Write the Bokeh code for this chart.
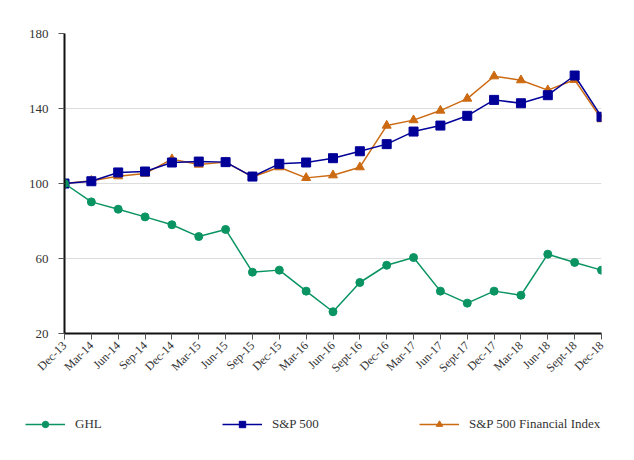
import math
from bokeh.plotting import figure
from bokeh.layouts import column
from bokeh.models import FixedTicker, Range1d, Legend, LegendItem, ColumnDataSource
from bokeh.embed import file_html
from bokeh.resources import INLINE

dates = ["Dec-13", "Mar-14", "Jun-14", "Sep-14", "Dec-14", "Mar-15", "Jun-15", "Sep-15",
         "Dec-15", "Mar-16", "Jun-16", "Sept-16", "Dec-16", "Mar-17", "Jun-17", "Sept-17",
         "Dec-17", "Mar-18", "Jun-18", "Sept-18", "Dec-18"]
ghl = [100, 90.2, 86.3, 82.2, 78.0, 71.7, 75.5, 52.7, 53.8, 42.6, 31.6, 47.2, 56.4, 60.5,
       42.6, 36.2, 42.6, 40.4, 62.3, 57.9, 53.8]
sp500 = [100, 101.2, 105.9, 106.4, 111.2, 111.7, 111.4, 103.7, 110.5, 111.2, 113.5, 117.2,
         121.0, 127.7, 130.9, 136.1, 144.6, 142.8, 147.1, 157.6, 135.6]
spfin = [100, 101.5, 103.9, 105.3, 113.0, 110.1, 111.4, 103.5, 108.7, 103.0, 104.4, 108.7,
         130.9, 133.8, 138.9, 145.3, 157.2, 155.1, 149.8, 155.3, 134.3]
series_names = ["GHL", "S&P 500", "S&P 500 Financial Index"]
y_ticks = [20, 60, 100, 140, 180]

idx = list(range(len(dates)))
src = ColumnDataSource(dict(x=idx, ghl=ghl, sp=sp500, fin=spfin))

FONT = "Liberation Serif"
GREEN = "#0a9462"
NAVY = "#000099"
ORANGE = "#cc6a12"
STYLES = [("circle", GREEN, 8), ("square", NAVY, 9), ("triangle", ORANGE, 9)]

p = figure(frame_width=537, frame_height=300, output_backend="svg", toolbar_location=None,
           x_range=Range1d(0, len(dates) - 1), y_range=Range1d(20, 180))
p.min_border_left = 64
p.min_border_right = 20
p.min_border_top = 33
p.min_border_bottom = 60
p.outline_line_color = None

p.line("x", "fin", source=src, line_color=ORANGE, line_width=1.5)
p.scatter("x", "fin", source=src, marker="triangle", size=9, fill_color=ORANGE, line_color=ORANGE)
p.line("x", "sp", source=src, line_color=NAVY, line_width=1.5)
p.scatter("x", "sp", source=src, marker="square", size=9, fill_color=NAVY, line_color=NAVY)
p.line("x", "ghl", source=src, line_color=GREEN, line_width=1.5)
p.scatter("x", "ghl", source=src, marker="circle", size=8, fill_color=GREEN, line_color=GREEN)

p.xaxis.ticker = FixedTicker(ticks=idx)
p.xaxis.major_label_overrides = {i: d for i, d in enumerate(dates)}
p.xaxis.major_label_orientation = math.pi / 4
p.yaxis.ticker = FixedTicker(ticks=y_ticks)

for ax in (p.xaxis, p.yaxis):
    ax.axis_line_color = "#111111"
    ax.axis_line_width = 2
    ax.major_tick_line_color = "#555555"
    ax.major_tick_out = 6
    ax.major_tick_in = 0
    ax.minor_tick_line_color = None
    ax.major_label_text_font = FONT
    ax.major_label_text_color = "#333333"
p.yaxis.major_label_text_font_size = "13px"
p.xaxis.major_label_text_font_size = "12px"
p.yaxis.major_label_standoff = 10
p.xaxis.major_label_standoff = 4

p.xgrid.grid_line_color = None
p.ygrid.grid_line_color = "#dddddd"
p.ygrid.grid_line_width = 1

# Legend in its own strip below the chart (keyed to the same styles)
lg = figure(frame_width=621, frame_height=50, output_backend="svg", toolbar_location=None,
            x_range=Range1d(0, 1), y_range=Range1d(0, 1), min_border=0)
lg.axis.visible = False
lg.grid.visible = False
lg.outline_line_color = None
items = []
for name, (marker, color, size) in zip(series_names, STYLES):
    offscreen = ColumnDataSource(dict(x=[-5, -4], y=[-5, -5]))
    r1 = lg.line("x", "y", source=offscreen, line_color=color, line_width=1.5)
    r2 = lg.scatter("x", "y", source=offscreen, marker=marker, size=size - 1,
                    fill_color=color, line_color=color)
    items.append(LegendItem(label=name, renderers=[r1, r2]))

legend = Legend(items=items, orientation="horizontal", location=(25, 11),
                glyph_width=40, glyph_height=16, label_standoff=10, label_width=147,
                spacing=0, padding=0, margin=0, border_line_color=None,
                background_fill_alpha=0,
                label_text_font=FONT, label_text_font_size="13px", label_text_color="#333333")
lg.add_layout(legend, "center")

layout = column(p, lg, spacing=0)
open("out.html", "w").write(file_html(layout, INLINE))
